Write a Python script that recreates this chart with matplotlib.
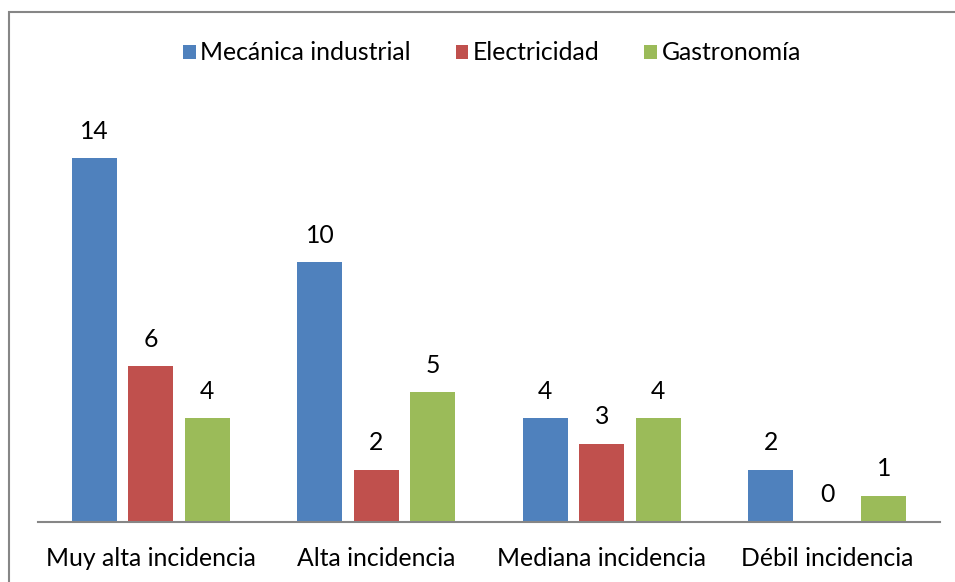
import matplotlib
matplotlib.use("Agg")
import matplotlib.pyplot as plt
from matplotlib.patches import Rectangle
import numpy as np

categories = ["Muy alta incidencia", "Alta incidencia", "Mediana incidencia", "Débil incidencia"]
series_names = ["Mecánica industrial", "Electricidad", "Gastronomía"]
mecanica = [14, 10, 4, 2]
electricidad = [6, 2, 3, 0]
gastronomia = [4, 5, 4, 1]
colors = ["#4F81BD", "#C0504D", "#9BBB59"]

plt.rcParams["font.family"] = ["Lato", "DejaVu Sans"]
FS = 17.8

fig = plt.figure(figsize=(9.55, 5.82), dpi=100)
ax = fig.add_axes([38 / 955, (582 - 521.5) / 582, 902 / 955, 16 * 25.93 / 582])

x = np.arange(len(categories))
offsets = [-0.25, 0.0, 0.25]
for vals, off, col, name in zip([mecanica, electricidad, gastronomia], offsets, colors, series_names):
    bars = ax.bar(x + off, vals, width=0.2, color=col, label=name)
    for b, v in zip(bars, vals):
        ax.annotate(str(v), (b.get_x() + b.get_width() / 2, v), xytext=(0, 11),
                    textcoords="offset points", ha="center", va="bottom", fontsize=FS)

ax.set_xlim(-0.5, len(categories) - 0.5)
ax.set_ylim(0, 16)
ax.set_xticks(x)
ax.set_xticklabels(categories, fontsize=FS)
ax.tick_params(axis="x", length=0, pad=18)
ax.set_yticks([])
for s in ["top", "right", "left"]:
    ax.spines[s].set_visible(False)
ax.spines["bottom"].set_color("#868686")
ax.spines["bottom"].set_linewidth(1.5)

fig.legend(loc="center", bbox_to_anchor=(492 / 955, 1 - 53 / 582), ncol=3, frameon=False,
           fontsize=FS, handlelength=0.5, handleheight=0.5, handletextpad=0.2,
           columnspacing=1.8)

# outer chart border
fig.patches.append(Rectangle((9 / 955, -0.1), 1.2, 1 - 12 / 582 + 0.1, transform=fig.transFigure,
                             fill=False, edgecolor="#868686", linewidth=1.5))

fig.savefig("out.png", dpi=100)
